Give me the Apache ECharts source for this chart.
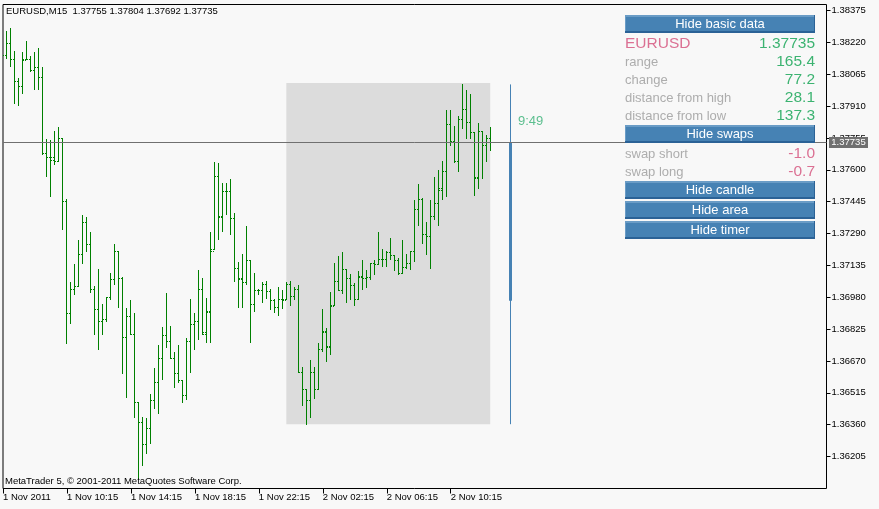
<!DOCTYPE html>
<html>
<head>
<meta charset="utf-8">
<style>html,body{margin:0;padding:0;background:#f8f8f8}#c{width:879px;height:509px}</style>
<script src="https://cdn.jsdelivr.net/npm/echarts@6/dist/echarts.min.js"></script>
</head>
<body>
<div id="c"></div>
<script>
const opens = [1.38159,1.38213,1.38135,1.38028,1.38008,1.38135,1.38135,1.38086,1.38096,1.38052,1.37682,1.37658,1.37648,1.37643,1.37755,1.37444,1.36899,1.37016,1.37030,1.37186,1.37342,1.37239,1.37016,1.36918,1.36860,1.36874,1.36977,1.37064,1.37201,1.37069,1.36782,1.36884,1.36801,1.36470,1.36368,1.36261,1.36339,1.36475,1.36563,1.36680,1.36792,1.36763,1.36680,1.36607,1.36573,1.36500,1.36763,1.36845,1.36860,1.37016,1.36806,1.36909,1.37210,1.37570,1.37371,1.37493,1.37493,1.37361,1.37118,1.37064,1.37054,1.37157,1.36947,1.37011,1.37011,1.37040,1.37006,1.36962,1.36928,1.36967,1.36967,1.37040,1.36986,1.37020,1.36616,1.36529,1.36475,1.36612,1.36529,1.36728,1.36811,1.36738,1.36938,1.37059,1.37011,1.37113,1.37069,1.37035,1.36967,1.37079,1.37069,1.37074,1.37142,1.37137,1.37166,1.37162,1.37196,1.37181,1.37157,1.37098,1.37123,1.37142,1.37201,1.37405,1.37458,1.37283,1.37278,1.37371,1.37434,1.37502,1.37590,1.37819,1.37736,1.37639,1.37843,1.37896,1.37833,1.37780,1.37556,1.37789,1.37721,1.37755];
const highs = [1.38276,1.38286,1.38174,1.38047,1.38169,1.38227,1.38154,1.38169,1.38193,1.38096,1.37746,1.37741,1.37789,1.37804,1.37755,1.37454,1.37054,1.37137,1.37254,1.37376,1.37366,1.37293,1.37030,1.37113,1.36943,1.36981,1.37098,1.37239,1.37201,1.37074,1.36923,1.36962,1.36899,1.36470,1.36393,1.36388,1.36509,1.36631,1.36743,1.36831,1.36996,1.36840,1.36709,1.36743,1.36573,1.36777,1.36967,1.36899,1.37108,1.37069,1.36972,1.37293,1.37634,1.37629,1.37536,1.37536,1.37551,1.37390,1.37147,1.37186,1.37322,1.37157,1.37098,1.37020,1.37054,1.37059,1.37016,1.36967,1.37025,1.37011,1.37054,1.37059,1.37025,1.37035,1.36636,1.36529,1.36670,1.36636,1.36753,1.36918,1.36826,1.37001,1.37142,1.37176,1.37196,1.37113,1.37089,1.37045,1.37103,1.37157,1.37108,1.37142,1.37157,1.37293,1.37210,1.37205,1.37264,1.37181,1.37171,1.37254,1.37186,1.37201,1.37449,1.37531,1.37463,1.37342,1.37449,1.37561,1.37595,1.37639,1.37887,1.37887,1.37809,1.37858,1.38016,1.37984,1.37965,1.37780,1.37828,1.37789,1.37765,1.37804];
const lows = [1.38140,1.38101,1.37925,1.37911,1.37970,1.38135,1.38077,1.37989,1.37989,1.37677,1.37566,1.37468,1.37624,1.37639,1.37312,1.36753,1.36850,1.36991,1.37030,1.37142,1.37201,1.37001,1.36801,1.36728,1.36797,1.36860,1.36967,1.37040,1.36928,1.36607,1.36490,1.36801,1.36397,1.36091,1.36159,1.36217,1.36266,1.36436,1.36412,1.36582,1.36733,1.36680,1.36543,1.36563,1.36466,1.36480,1.36612,1.36724,1.36772,1.36797,1.36758,1.36758,1.37210,1.37259,1.37298,1.37381,1.37283,1.37059,1.36928,1.36928,1.37040,1.36758,1.36913,1.36991,1.36952,1.36972,1.36918,1.36904,1.36889,1.36923,1.36967,1.36938,1.36967,1.36616,1.36451,1.36359,1.36397,1.36485,1.36529,1.36714,1.36665,1.36699,1.36938,1.37011,1.36996,1.36952,1.36967,1.36938,1.36967,1.37016,1.37025,1.37064,1.37089,1.37137,1.37132,1.37132,1.37166,1.37108,1.37089,1.37098,1.37118,1.37113,1.37152,1.37327,1.37244,1.37186,1.37118,1.37356,1.37327,1.37458,1.37468,1.37721,1.37634,1.37590,1.37799,1.37755,1.37755,1.37473,1.37507,1.37556,1.37643,1.37692];
const closes = [1.38213,1.38135,1.38028,1.38008,1.38130,1.38135,1.38086,1.38096,1.38052,1.37682,1.37658,1.37658,1.37643,1.37755,1.37444,1.36899,1.37016,1.37030,1.37186,1.37342,1.37239,1.37016,1.36918,1.36860,1.36874,1.36981,1.37064,1.37201,1.37069,1.36782,1.36884,1.36801,1.36470,1.36368,1.36261,1.36339,1.36475,1.36563,1.36680,1.36792,1.36763,1.36680,1.36607,1.36573,1.36500,1.36763,1.36845,1.36860,1.37016,1.36801,1.36904,1.37205,1.37570,1.37366,1.37493,1.37497,1.37361,1.37118,1.37069,1.37054,1.37157,1.36947,1.37011,1.37011,1.37040,1.37006,1.36962,1.36928,1.36967,1.36962,1.37040,1.36986,1.37020,1.36616,1.36529,1.36475,1.36612,1.36529,1.36728,1.36806,1.36733,1.36933,1.37059,1.37011,1.37113,1.37069,1.37035,1.36967,1.37074,1.37069,1.37074,1.37142,1.37137,1.37166,1.37162,1.37196,1.37181,1.37157,1.37098,1.37123,1.37142,1.37201,1.37405,1.37458,1.37283,1.37278,1.37371,1.37434,1.37507,1.37590,1.37819,1.37736,1.37639,1.37843,1.37896,1.37833,1.37780,1.37561,1.37789,1.37721,1.37755,1.37735];

const xTickLabels = ['1 Nov 2011','1 Nov 10:15','1 Nov 14:15','1 Nov 18:15','1 Nov 22:15','2 Nov 02:15','2 Nov 06:15','2 Nov 10:15'];
const yTicks = [1.38375,1.38220,1.38065,1.37910,1.37755,1.37600,1.37445,1.37290,1.37135,1.36980,1.36825,1.36670,1.36515,1.36360,1.36205];

const currentPrice = 1.37735;
const dayOpen = 1.36963, dayClose = 1.37735, dayHigh = 1.38016, dayLow = 1.36362;
const rangeTop = 1.38023, rangeBottom = 1.36362;
const rangeStartBar = 71, rangeEndBar = 122, timerBar = 127, lastSlot = 206;

const headerText = 'EURUSD,M15  1.37755 1.37804 1.37692 1.37735';
const copyrightText = 'MetaTrader 5, \u00A9 2001-2011 MetaQuotes Software Corp.';
const symbolName = 'EURUSD', symbolPrice = '1.37735', timerText = '9:49';
const basicLabels = ['range','change','distance from high','distance from low'];
const basicValues = ['165.4','77.2','28.1','137.3'];
const swapLabels = ['swap short','swap long'];
const swapValues = ['-1.0','-0.7'];
const buttonLabels = ['Hide basic data','Hide swaps','Hide candle','Hide area','Hide timer'];

const FONT = '"Liberation Sans", Arial, sans-serif';
const GREEN = '#008000', BLUE = '#4682B4', VALUE = '#3CB371', PINK = '#DB7093', GREY = '#ADADAD';
const barData = opens.map((o, i) => [i + 1, o, highs[i], lows[i], closes[i]]);
const snap = v => Math.floor(v) + 0.5;

function renderBar(params, api) {
  const k = api.value(0);
  const top = api.coord([k, api.value(2)]);
  const bot = api.coord([k, api.value(3)]);
  const op = api.coord([k, api.value(1)]);
  const cl = api.coord([k, api.value(4)]);
  const x = snap(top[0]);
  const tick = { stroke: GREEN, lineWidth: 1, lineDash: [1, 1] };
  return { type: 'group', children: [
    { type: 'line', shape: { x1: x, y1: Math.floor(top[1]), x2: x, y2: Math.ceil(bot[1]) }, style: { stroke: GREEN, lineWidth: 1 } },
    { type: 'line', shape: { x1: x - 0.5, y1: snap(op[1]), x2: x - 3.5, y2: snap(op[1]) }, style: tick },
    { type: 'line', shape: { x1: x + 0.5, y1: snap(cl[1]), x2: x + 3.5, y2: snap(cl[1]) }, style: tick }
  ] };
}
function renderDayCandle(params, api) {
  const k = api.value(0);
  const hi = api.coord([k, api.value(2)]);
  const lo = api.coord([k, api.value(3)]);
  const op = api.coord([k, api.value(1)]);
  const cl = api.coord([k, api.value(4)]);
  const x = snap(hi[0]);
  return { type: 'group', children: [
    { type: 'line', shape: { x1: x, y1: hi[1], x2: x, y2: lo[1] }, style: { stroke: BLUE, lineWidth: 1 } },
    { type: 'line', shape: { x1: x, y1: op[1], x2: x, y2: cl[1] }, style: { stroke: BLUE, lineWidth: 3 } }
  ] };
}
function renderPriceLine(params, api) {
  const a = api.coord([api.value(0), api.value(2)]);
  const b = api.coord([api.value(1), api.value(2)]);
  const y = snap(a[1]);
  return { type: 'group', children: [
    { type: 'line', shape: { x1: a[0], y1: y, x2: b[0], y2: y }, style: { stroke: '#707070', lineWidth: 1 } },
    { type: 'rect', shape: { x: b[0] + 2.5, y: y - 5.5, width: 39, height: 11 }, style: { fill: '#707070' } },
    { type: 'text', x: b[0] + 22, y: y, style: { text: currentPrice.toFixed(5), fill: '#fff', font: '9.5px ' + FONT, textAlign: 'center', textVerticalAlign: 'middle' } }
  ] };
}

const g = [];
const txt = (x, y, text, fill, size, align) => g.push({ type: 'text', x, y, z: 100, silent: true,
  style: { text, fill, font: size + 'px ' + FONT, textAlign: align || 'left', textVerticalAlign: 'middle' } });
const rect = (x, y, w, h, fill) => g.push({ type: 'rect', z: 99, silent: true, shape: { x, y, width: w, height: h }, style: { fill } });

const btnTops = [15, 125, 181, 201, 221];
const btnHeights = [18, 18, 18, 18, 18];
buttonLabels.forEach((label, i) => {
  const t = btnTops[i], h = btnHeights[i];
  rect(625, t, 190, h, BLUE);
  rect(625, t, 190, 2, '#6A9CC6');
  rect(625, t, 1, h, '#6A9CC6');
  rect(625, t + h - 2, 190, 2, '#2B6296');
  rect(814, t, 1, h, '#2B6296');
  txt(720, t + 9.5, label, '#ffffff', 13, 'center');
});
txt(625, 44, symbolName, PINK, 15.5);
txt(815, 44, symbolPrice, VALUE, 15.5, 'right');
const basicY = [62, 80, 98, 116];
basicLabels.forEach((l, i) => { txt(625, basicY[i], l, GREY, 13); txt(815, basicY[i], basicValues[i], VALUE, 15.5, 'right'); });
const swapY = [154, 172];
swapLabels.forEach((l, i) => { txt(625, swapY[i], l, GREY, 13); txt(815, swapY[i], swapValues[i], PINK, 15.5, 'right'); });
txt(518, 121, timerText, '#5CBF8F', 13);
txt(6, 11.5, headerText, '#000000', 9.5);
txt(5, 481, copyrightText, '#000000', 9.5);

const chart = echarts.init(document.getElementById('c'), null, { renderer: 'canvas' });
chart.setOption({
  animation: false,
  backgroundColor: '#f8f8f8',
  textStyle: { fontFamily: FONT },
  grid: { show: true, left: 2.5, top: 4.5, width: 824, height: 484, borderColor: '#000', borderWidth: 1, backgroundColor: '#f8f8f8' },
  xAxis: {
    type: 'value', min: 0, max: lastSlot, splitLine: { show: false }, axisLine: { show: false, onZero: false },
    axisTick: { show: true, length: 5, lineStyle: { color: '#000' }, customValues: xTickLabels.map((_, i) => i * 16) },
    axisLabel: { customValues: xTickLabels.map((_, i) => i * 16), formatter: v => xTickLabels[Math.round(v / 16)] || '',
      align: 'left', margin: 4, color: '#000', fontSize: 9.5, fontFamily: FONT, hideOverlap: false, showMinLabel: true, showMaxLabel: true }
  },
  yAxis: {
    type: 'value', position: 'right', min: 1.36049, max: 1.38405, splitLine: { show: false }, axisLine: { show: false, onZero: false },
    axisTick: { show: true, length: 4, lineStyle: { color: '#000' }, customValues: yTicks },
    axisLabel: { customValues: yTicks, formatter: v => v.toFixed(5), margin: 5, color: '#000', fontSize: 9.5, fontFamily: FONT, hideOverlap: false }
  },
  series: [
    { type: 'line', z: 1, data: [], silent: true,
      markArea: { silent: true, itemStyle: { color: '#DCDCDC' },
        data: [[{ xAxis: rangeStartBar - 0.125, yAxis: rangeTop }, { xAxis: rangeEndBar - 0.125, yAxis: rangeBottom }]] } },
    { type: 'custom', z: 3, data: barData, encode: { x: 0, y: [1, 2, 3, 4] }, renderItem: renderBar, silent: true },
    { type: 'custom', z: 4, data: [[timerBar, dayOpen, dayHigh, dayLow, dayClose]], encode: { x: 0, y: [1, 2, 3, 4] }, renderItem: renderDayCandle, silent: true },
    { type: 'custom', z: 5, data: [[0, lastSlot, currentPrice]], encode: { x: [0, 1], y: 2 }, renderItem: renderPriceLine, silent: true, clip: false }
  ],
  graphic: g
});
</script>
</body>
</html>
